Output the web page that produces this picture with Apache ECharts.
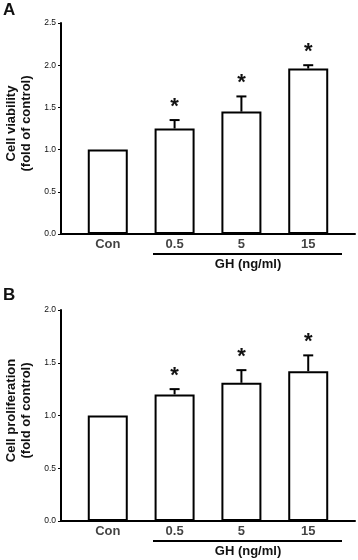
<!DOCTYPE html>
<html><head><meta charset="utf-8">
<script src="https://cdn.jsdelivr.net/npm/echarts@6/dist/echarts.min.js"></script>
<style>html,body{margin:0;padding:0;background:#fff}#c{width:358px;height:560px}</style>
</head><body><div id="c"></div>
<script>
const categories = ['Con', '0.5', '5', '15'];
const viability = [1.00, 1.25, 1.45, 1.96];
const viabilityErr = [0, 0.10, 0.18, 0.04];
const viabilitySig = [false, true, true, true];
const proliferation = [1.00, 1.20, 1.31, 1.42];
const proliferationErr = [0, 0.05, 0.12, 0.15];
const proliferationSig = [false, true, true, true];
const yTicksA = [0, 0.5, 1.0, 1.5, 2.0, 2.5];
const yTicksB = [0, 0.5, 1.0, 1.5, 2.0];

const FONT = '"Liberation Sans", Arial, sans-serif';
const chart = echarts.init(document.getElementById('c'), null, {renderer: 'canvas'});

function yAxis(idx, ticks, name) {
  return {
    type: 'value', gridIndex: idx, min: ticks[0], max: ticks[ticks.length - 1], interval: 0.5,
    axisLine: {show: true, onZero: false, lineStyle: {color: '#000', width: 2}},
    axisTick: {show: true, inside: false, length: 3, lineStyle: {color: '#000', width: 1}},
    axisLabel: {fontSize: 8.5, color: '#111', fontFamily: FONT, margin: 5, formatter: v => v.toFixed(1)},
    splitLine: {show: false},
    name: name, nameLocation: 'middle', nameRotate: 90, nameGap: 27, nameMoveOverlap: false,
    nameTextStyle: {fontSize: 13, fontWeight: 'bold', color: '#111', fontFamily: FONT, lineHeight: 15, padding: [0, 0, 0, 10]}
  };
}
function xAxis(idx) {
  return {
    type: 'value', gridIndex: idx, min: -0.7, max: 3.7,
    axisLine: {show: true, onZero: false, lineStyle: {color: '#000', width: 2}},
    axisTick: {show: false}, axisLabel: {show: false}, splitLine: {show: false}
  };
}
function barSeries(idx, vals) {
  return {
    type: 'bar', xAxisIndex: idx, yAxisIndex: idx, barWidth: 40,
    data: vals.map((v, i) => [i, v]),
    itemStyle: {color: '#fff', borderColor: '#000', borderWidth: 2},
    silent: true, z: 2
  };
}
function errSeries(idx, vals, errs, sig) {
  return {
    type: 'custom', xAxisIndex: idx, yAxisIndex: idx, z: 3, silent: true,
    data: vals.map((v, i) => [i, v, errs[i], sig[i] ? 1 : 0]),
    renderItem: function (params, api) {
      const x = api.value(0), v = api.value(1), e = api.value(2), s = api.value(3);
      const p0 = api.coord([x, v]);
      const p1 = api.coord([x, v + e]);
      const children = [];
      if (e > 0) {
        children.push({type: 'line', shape: {x1: p0[0], y1: p0[1], x2: p1[0], y2: p1[1]}, style: {stroke: '#000', lineWidth: 2}});
        children.push({type: 'line', shape: {x1: p1[0] - 5, y1: p1[1], x2: p1[0] + 5, y2: p1[1]}, style: {stroke: '#000', lineWidth: 2}});
      }
      if (s) {
        children.push({type: 'text', x: p1[0], y: p1[1] - 13, style: {text: '*', fontSize: 22, fontWeight: 'bold', fill: '#111', fontFamily: FONT, align: 'center', verticalAlign: 'middle'}});
      }
      return {type: 'group', children: children};
    }
  };
}
function catLabels(idx) {
  return {
    type: 'scatter', xAxisIndex: idx, yAxisIndex: idx, symbolSize: 0, clip: false, silent: true,
    data: categories.map((c, i) => [i, 0]),
    label: {show: true, position: 'bottom', distance: 4, formatter: p => categories[p.dataIndex],
      fontSize: 13, fontWeight: 'bold', color: '#111', fontFamily: FONT}
  };
}

const option = {
  animation: false,
  backgroundColor: '#fff',
  grid: [
    {left: 61, right: 3, top: 23, height: 211, containLabel: false, outerBoundsMode: 'none'},
    {left: 61, right: 3, top: 310, height: 211, containLabel: false, outerBoundsMode: 'none'}
  ],
  xAxis: [xAxis(0), xAxis(1)],
  yAxis: [yAxis(0, yTicksA, 'Cell viability\n(fold of control)'), yAxis(1, yTicksB, 'Cell proliferation\n(fold of control)')],
  series: [
    barSeries(0, viability), errSeries(0, viability, viabilityErr, viabilitySig), catLabels(0),
    barSeries(1, proliferation), errSeries(1, proliferation, proliferationErr, proliferationSig), catLabels(1)
  ],
  graphic: [
    {type: 'text', left: 3, top: 2, style: {text: 'A', fontSize: 17, fontWeight: 'bold', fill: '#111', fontFamily: FONT}},
    {type: 'text', left: 3, top: 287, style: {text: 'B', fontSize: 17, fontWeight: 'bold', fill: '#111', fontFamily: FONT}},
    {type: 'line', shape: {x1: 153, y1: 254, x2: 342, y2: 254}, style: {stroke: '#000', lineWidth: 2}},
    {type: 'text', x: 248, y: 264, style: {text: 'GH (ng/ml)', fontSize: 13, fontWeight: 'bold', fill: '#111', fontFamily: FONT, align: 'center', verticalAlign: 'middle'}},
    {type: 'line', shape: {x1: 153, y1: 541, x2: 342, y2: 541}, style: {stroke: '#000', lineWidth: 2}},
    {type: 'text', x: 248, y: 551, style: {text: 'GH (ng/ml)', fontSize: 13, fontWeight: 'bold', fill: '#111', fontFamily: FONT, align: 'center', verticalAlign: 'middle'}}
  ]
};
chart.setOption(option);
</script></body></html>
